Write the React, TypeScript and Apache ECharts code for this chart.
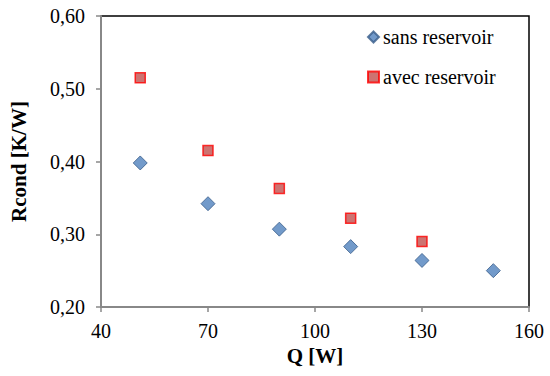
import React, { useEffect, useRef } from "react";
import * as echarts from "echarts";

const xTicks = [40, 70, 100, 130, 160];
const yTicks = [0.2, 0.3, 0.4, 0.5, 0.6];
const seriesNames = ["sans reservoir", "avec reservoir"];
const sansQ = [51, 70, 90, 110, 130, 150];
const sansR = [0.398, 0.342, 0.307, 0.283, 0.264, 0.25];
const avecQ = [51, 70, 90, 110, 130];
const avecR = [0.515, 0.415, 0.363, 0.322, 0.29];

const FONT = "Liberation Serif, serif";
const labelRich = { a: { fontFamily: FONT, fontSize: 20, color: "#000" } };

export default function App() {
  const ref = useRef<HTMLDivElement>(null);
  useEffect(() => {
    if (!ref.current) return;
    const chart = echarts.init(ref.current, undefined, { renderer: "svg" });
    chart.setOption({
      animation: false,
      grid: {
        left: 97,
        right: 21,
        top: 16,
        bottom: 69,
        show: true,
        borderColor: "#000",
        borderWidth: 1.5,
      },
      legend: {
        orient: "vertical",
        left: 362,
        top: 22,
        itemWidth: 11,
        itemHeight: 11,
        itemGap: 20,
        textStyle: { fontFamily: FONT, fontSize: 20, color: "#000", padding: [0, 0, 0, -1] },
        data: [
          { name: seriesNames[0], icon: "diamond" },
          { name: seriesNames[1], icon: "rect" },
        ],
      },
      xAxis: {
        type: "value",
        min: xTicks[0],
        max: xTicks[xTicks.length - 1],
        interval: 30,
        name: "Q [W]",
        nameLocation: "middle",
        nameGap: 38,
        nameTextStyle: { fontFamily: FONT, fontSize: 21, fontWeight: "bold", color: "#000" },
        axisLine: { show: true, lineStyle: { color: "#888", width: 2 } },
        axisTick: { show: true, length: 5, lineStyle: { color: "#888", width: 1.5 } },
        splitLine: { show: false },
        axisLabel: {
          fontFamily: FONT,
          fontSize: 20,
          color: "#000",
          margin: 14,
          formatter: (v: number) => "{a|" + v + "}",
          rich: labelRich,
        },
      },
      yAxis: {
        type: "value",
        min: yTicks[0],
        max: yTicks[yTicks.length - 1],
        interval: 0.1,
        name: "Rcond [K/W]",
        nameLocation: "middle",
        nameGap: 72,
        nameTextStyle: { fontFamily: FONT, fontSize: 21, fontWeight: "bold", color: "#000" },
        axisLine: { show: true, lineStyle: { color: "#888", width: 2 } },
        axisTick: { show: true, length: 5, lineStyle: { color: "#888", width: 1.5 } },
        splitLine: { show: false },
        axisLabel: {
          fontFamily: FONT,
          fontSize: 20,
          color: "#000",
          margin: 16,
          formatter: (v: number) => "{a|" + v.toFixed(2).replace(".", ",") + "}",
          rich: labelRich,
        },
      },
      series: [
        {
          name: seriesNames[0],
          type: "scatter",
          symbol: "diamond",
          symbolSize: 14,
          data: sansQ.map((q, i) => [q, sansR[i]]),
          itemStyle: { color: "#4f81bd", borderColor: "#385d8a", borderWidth: 1 },
        },
        {
          name: seriesNames[1],
          type: "scatter",
          symbol: "rect",
          symbolSize: 10,
          data: avecQ.map((q, i) => [q, avecR[i]]),
          itemStyle: { color: "#c0504d", borderColor: "#ff0000", borderWidth: 1.5 },
        },
      ],
    });
    return () => chart.dispose();
  }, []);
  return <div ref={ref} style={{ width: 550, height: 376, position: "absolute", left: 0, top: 0 }} />;
}
